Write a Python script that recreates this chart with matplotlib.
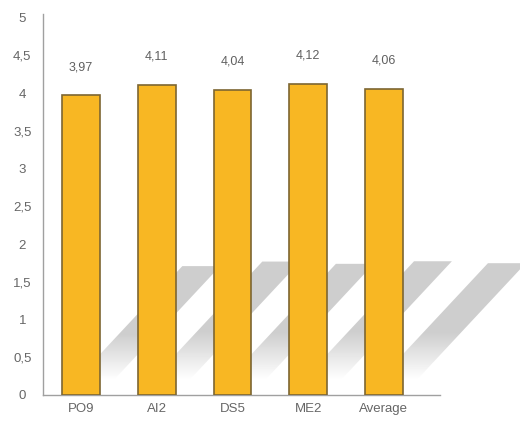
import numpy as np
import matplotlib
matplotlib.use('Agg')
from matplotlib import pyplot as plt
from matplotlib.patches import Polygon

categories = ['PO9', 'AI2', 'DS5', 'ME2', 'Average']
values = [3.97, 4.11, 4.04, 4.12, 4.06]
y_ticks = [0, 0.5, 1, 1.5, 2, 2.5, 3, 3.5, 4, 4.5, 5]


def fmt(v):
    return ('%g' % v).replace('.', ',')


def draw_shadow(fig, ax, x0, width, height):
    # slanted drop shadow, fading towards the foot of the bar
    dx = 0.40 * height
    dy = 0.43 * height
    pts = [(x0, 0), (x0 + width, 0), (x0 + width + dx, dy), (x0 + dx, dy)]
    poly = Polygon(pts, closed=True, facecolor='none', edgecolor='none',
                   transform=ax.transData)
    t = np.linspace(0, 1, 200)
    alpha = np.clip((t - 0.12) / 0.35, 0, 1) * 0.9
    img = np.zeros((len(t), 1, 4))
    img[..., :3] = 0.79
    img[:, 0, 3] = alpha
    im = ax.imshow(img, extent=(x0, x0 + width + dx, 0, dy), origin='lower',
                   aspect='auto', interpolation='bilinear', zorder=1)
    im.set_clip_box(fig.bbox)
    im.set_clip_path(poly)


def main():
    plt.rcParams['font.family'] = ['Liberation Sans', 'DejaVu Sans']
    fig = plt.figure(figsize=(5.2, 4.21), dpi=100)
    ax = fig.add_axes([0.083, 0.062, 0.763, 0.905])

    x = np.arange(len(categories))
    width = 0.5
    for xi, v in zip(x, values):
        draw_shadow(fig, ax, xi - width / 2, width, v)

    ax.bar(x, values, width=width, color='#f8b723', edgecolor='#7d6632',
           linewidth=1.2, zorder=3)
    for xi, v in zip(x, values):
        ax.annotate(fmt(v), (xi, v), xytext=(0, 16), textcoords='offset points',
                    ha='center', va='bottom', fontsize=9, color='#606060')

    ax.set_xlim(-0.5, 4.74)
    ax.set_ylim(0, 5.05)
    ax.set_yticks(y_ticks)
    ax.set_yticklabels([fmt(t) for t in y_ticks], ha='center')
    ax.set_xticks(x)
    ax.set_xticklabels(categories)
    ax.tick_params(axis='both', length=0, labelsize=9.5, colors='#666666')
    ax.tick_params(axis='y', pad=15)
    ax.tick_params(axis='x', pad=6)
    for s in ['top', 'right']:
        ax.spines[s].set_visible(False)
    for s in ['left', 'bottom']:
        ax.spines[s].set_color('#a0a0a0')
        ax.spines[s].set_linewidth(1.0)

    fig.savefig('out.png', dpi=100)


if __name__ == '__main__':
    main()
